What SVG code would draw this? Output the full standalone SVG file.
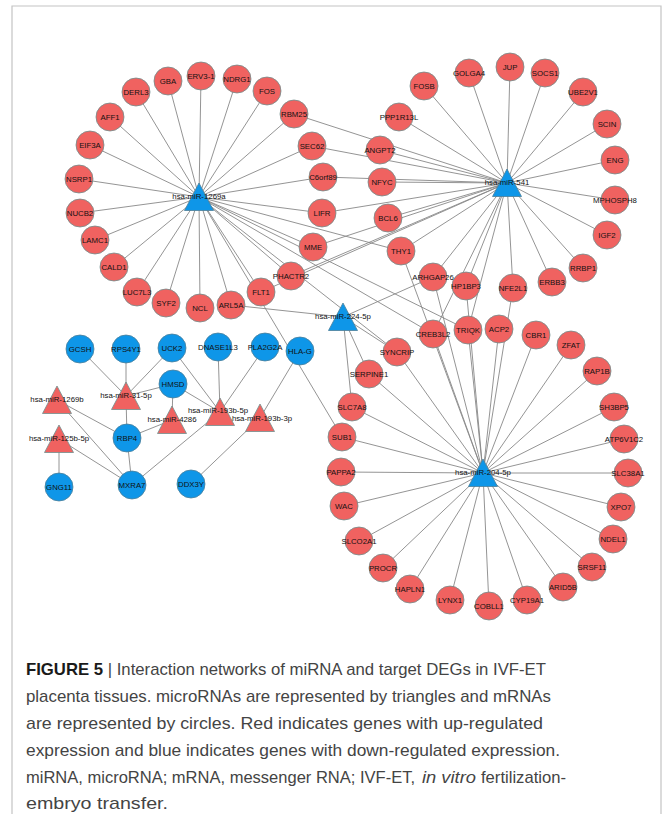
<svg xmlns="http://www.w3.org/2000/svg" xmlns:xlink="http://www.w3.org/1999/xlink" width="662" height="814" viewBox="0 0 662 814">
<style>
.e{stroke:#888888;stroke-width:0.9;fill:none}
.r{fill:#f06260;stroke:#6e8f8e;stroke-width:0.8}
.b{fill:#0e96e8;stroke:#4d7f98;stroke-width:0.8}
.l{font-family:"Liberation Sans",Arial,sans-serif;font-size:7.8px;fill:#111;text-anchor:middle;dominant-baseline:central}
.cap{font-family:"Liberation Sans",Arial,sans-serif;font-size:17px;fill:#444}
.frame{stroke:#c4c4c4;stroke-width:1.2;fill:none}
</style>
<defs>
<circle id="c" r="14"/>
<polygon id="t" points="0,-14 14.5,13.5 -14.5,13.5"/>
</defs>
<rect width="662" height="814" fill="#ffffff"/>
<path class="frame" d="M12,814 V6 H661 V814"/>
<g id="connectors" class="e">
<line x1="199" y1="197" x2="168" y2="81"/>
<line x1="199" y1="197" x2="201" y2="76"/>
<line x1="199" y1="197" x2="237" y2="79"/>
<line x1="199" y1="197" x2="267" y2="91"/>
<line x1="199" y1="197" x2="294" y2="114"/>
<line x1="199" y1="197" x2="136" y2="92"/>
<line x1="199" y1="197" x2="110" y2="117"/>
<line x1="199" y1="197" x2="90" y2="145"/>
<line x1="199" y1="197" x2="79" y2="179"/>
<line x1="199" y1="197" x2="80" y2="213"/>
<line x1="199" y1="197" x2="95" y2="240"/>
<line x1="199" y1="197" x2="114" y2="267"/>
<line x1="199" y1="197" x2="137" y2="292"/>
<line x1="199" y1="197" x2="166" y2="303"/>
<line x1="199" y1="197" x2="200" y2="308"/>
<line x1="199" y1="197" x2="231" y2="305"/>
<line x1="199" y1="197" x2="261" y2="292"/>
<line x1="199" y1="197" x2="291" y2="276"/>
<line x1="199" y1="197" x2="313" y2="247"/>
<line x1="199" y1="197" x2="322" y2="213"/>
<line x1="199" y1="197" x2="323" y2="177"/>
<line x1="199" y1="197" x2="312" y2="146"/>
<line x1="199" y1="197" x2="401" y2="251"/>
<line x1="199" y1="197" x2="468" y2="330"/>
<line x1="199" y1="197" x2="433" y2="334"/>
<line x1="199" y1="197" x2="342" y2="437"/>
<line x1="199" y1="197" x2="397" y2="352"/>
<line x1="507" y1="183" x2="424" y2="86"/>
<line x1="507" y1="183" x2="469" y2="73"/>
<line x1="507" y1="183" x2="510" y2="67"/>
<line x1="507" y1="183" x2="545" y2="73"/>
<line x1="507" y1="183" x2="583" y2="92"/>
<line x1="507" y1="183" x2="607" y2="124"/>
<line x1="507" y1="183" x2="615" y2="160"/>
<line x1="507" y1="183" x2="615" y2="200"/>
<line x1="507" y1="183" x2="607" y2="235"/>
<line x1="507" y1="183" x2="583" y2="268"/>
<line x1="507" y1="183" x2="552" y2="282"/>
<line x1="507" y1="183" x2="513" y2="288"/>
<line x1="507" y1="183" x2="466" y2="286"/>
<line x1="507" y1="183" x2="433" y2="277"/>
<line x1="507" y1="183" x2="401" y2="251"/>
<line x1="507" y1="183" x2="388" y2="218"/>
<line x1="507" y1="183" x2="382" y2="182"/>
<line x1="507" y1="183" x2="380" y2="150"/>
<line x1="507" y1="183" x2="399" y2="117"/>
<line x1="507" y1="183" x2="294" y2="114"/>
<line x1="507" y1="183" x2="312" y2="146"/>
<line x1="507" y1="183" x2="323" y2="177"/>
<line x1="507" y1="183" x2="322" y2="213"/>
<line x1="507" y1="183" x2="313" y2="247"/>
<line x1="507" y1="183" x2="291" y2="276"/>
<line x1="507" y1="183" x2="261" y2="292"/>
<line x1="507" y1="183" x2="468" y2="330"/>
<line x1="507" y1="183" x2="433" y2="334"/>
<line x1="343" y1="317" x2="231" y2="305"/>
<line x1="343" y1="317" x2="433" y2="277"/>
<line x1="343" y1="317" x2="397" y2="352"/>
<line x1="343" y1="317" x2="369" y2="374"/>
<line x1="343" y1="317" x2="352" y2="407"/>
<line x1="483" y1="473" x2="352" y2="407"/>
<line x1="483" y1="473" x2="342" y2="437"/>
<line x1="483" y1="473" x2="341" y2="472"/>
<line x1="483" y1="473" x2="344" y2="506"/>
<line x1="483" y1="473" x2="359" y2="541"/>
<line x1="483" y1="473" x2="383" y2="568"/>
<line x1="483" y1="473" x2="410" y2="589"/>
<line x1="483" y1="473" x2="450" y2="600"/>
<line x1="483" y1="473" x2="489" y2="606"/>
<line x1="483" y1="473" x2="527" y2="600"/>
<line x1="483" y1="473" x2="563" y2="587"/>
<line x1="483" y1="473" x2="592" y2="567"/>
<line x1="483" y1="473" x2="613" y2="539"/>
<line x1="483" y1="473" x2="621" y2="507"/>
<line x1="483" y1="473" x2="628" y2="473"/>
<line x1="483" y1="473" x2="624" y2="439"/>
<line x1="483" y1="473" x2="614" y2="407"/>
<line x1="483" y1="473" x2="597" y2="371"/>
<line x1="483" y1="473" x2="571" y2="345"/>
<line x1="483" y1="473" x2="536" y2="335"/>
<line x1="483" y1="473" x2="499" y2="329"/>
<line x1="483" y1="473" x2="513" y2="288"/>
<line x1="483" y1="473" x2="468" y2="330"/>
<line x1="483" y1="473" x2="466" y2="286"/>
<line x1="483" y1="473" x2="433" y2="334"/>
<line x1="483" y1="473" x2="401" y2="251"/>
<line x1="483" y1="473" x2="433" y2="277"/>
<line x1="483" y1="473" x2="397" y2="352"/>
<line x1="483" y1="473" x2="369" y2="374"/>
<line x1="126" y1="396" x2="80" y2="349"/>
<line x1="126" y1="396" x2="126" y2="349"/>
<line x1="126" y1="396" x2="172" y2="348"/>
<line x1="126" y1="396" x2="173" y2="384"/>
<line x1="126" y1="396" x2="127" y2="438"/>
<line x1="127" y1="438" x2="132" y2="485"/>
<line x1="220" y1="412" x2="172" y2="348"/>
<line x1="220" y1="412" x2="173" y2="384"/>
<line x1="220" y1="412" x2="218" y2="347"/>
<line x1="220" y1="412" x2="265" y2="347"/>
<line x1="220" y1="412" x2="132" y2="485"/>
<line x1="172" y1="420" x2="173" y2="384"/>
<line x1="172" y1="420" x2="127" y2="438"/>
<line x1="57" y1="400" x2="127" y2="438"/>
<line x1="57" y1="400" x2="132" y2="485"/>
<line x1="59" y1="439" x2="59" y2="487"/>
<line x1="59" y1="439" x2="132" y2="485"/>
<line x1="260" y1="418" x2="300" y2="351"/>
<line x1="260" y1="418" x2="191" y2="484"/>
</g>
<g id="n-GBA"><use href="#c" x="168" y="81" class="r"/><text class="l" x="168" y="81">GBA</text></g>
<g id="n-ERV3-1"><use href="#c" x="201" y="76" class="r"/><text class="l" x="201" y="76">ERV3-1</text></g>
<g id="n-NDRG1"><use href="#c" x="237" y="79" class="r"/><text class="l" x="237" y="79">NDRG1</text></g>
<g id="n-FOS"><use href="#c" x="267" y="91" class="r"/><text class="l" x="267" y="91">FOS</text></g>
<g id="n-RBM25"><use href="#c" x="294" y="114" class="r"/><text class="l" x="294" y="114">RBM25</text></g>
<g id="n-DERL3"><use href="#c" x="136" y="92" class="r"/><text class="l" x="136" y="92">DERL3</text></g>
<g id="n-AFF1"><use href="#c" x="110" y="117" class="r"/><text class="l" x="110" y="117">AFF1</text></g>
<g id="n-EIF3A"><use href="#c" x="90" y="145" class="r"/><text class="l" x="90" y="145">EIF3A</text></g>
<g id="n-NSRP1"><use href="#c" x="79" y="179" class="r"/><text class="l" x="79" y="179">NSRP1</text></g>
<g id="n-NUCB2"><use href="#c" x="80" y="213" class="r"/><text class="l" x="80" y="213">NUCB2</text></g>
<g id="n-LAMC1"><use href="#c" x="95" y="240" class="r"/><text class="l" x="95" y="240">LAMC1</text></g>
<g id="n-CALD1"><use href="#c" x="114" y="267" class="r"/><text class="l" x="114" y="267">CALD1</text></g>
<g id="n-LUC7L3"><use href="#c" x="137" y="292" class="r"/><text class="l" x="137" y="292">LUC7L3</text></g>
<g id="n-SYF2"><use href="#c" x="166" y="303" class="r"/><text class="l" x="166" y="303">SYF2</text></g>
<g id="n-NCL"><use href="#c" x="200" y="308" class="r"/><text class="l" x="200" y="308">NCL</text></g>
<g id="n-ARL5A"><use href="#c" x="231" y="305" class="r"/><text class="l" x="231" y="305">ARL5A</text></g>
<g id="n-FLT1"><use href="#c" x="261" y="292" class="r"/><text class="l" x="261" y="292">FLT1</text></g>
<g id="n-PHACTR2"><use href="#c" x="291" y="276" class="r"/><text class="l" x="291" y="276">PHACTR2</text></g>
<g id="n-MME"><use href="#c" x="313" y="247" class="r"/><text class="l" x="313" y="247">MME</text></g>
<g id="n-LIFR"><use href="#c" x="322" y="213" class="r"/><text class="l" x="322" y="213">LIFR</text></g>
<g id="n-C6orf89"><use href="#c" x="323" y="177" class="r"/><text class="l" x="323" y="177">C6orf89</text></g>
<g id="n-SEC62"><use href="#c" x="312" y="146" class="r"/><text class="l" x="312" y="146">SEC62</text></g>
<g id="n-FOSB"><use href="#c" x="424" y="86" class="r"/><text class="l" x="424" y="86">FOSB</text></g>
<g id="n-GOLGA4"><use href="#c" x="469" y="73" class="r"/><text class="l" x="469" y="73">GOLGA4</text></g>
<g id="n-JUP"><use href="#c" x="510" y="67" class="r"/><text class="l" x="510" y="67">JUP</text></g>
<g id="n-SOCS1"><use href="#c" x="545" y="73" class="r"/><text class="l" x="545" y="73">SOCS1</text></g>
<g id="n-UBE2V1"><use href="#c" x="583" y="92" class="r"/><text class="l" x="583" y="92">UBE2V1</text></g>
<g id="n-SCIN"><use href="#c" x="607" y="124" class="r"/><text class="l" x="607" y="124">SCIN</text></g>
<g id="n-ENG"><use href="#c" x="615" y="160" class="r"/><text class="l" x="615" y="160">ENG</text></g>
<g id="n-MPHOSPH8"><use href="#c" x="615" y="200" class="r"/><text class="l" x="615" y="200">MPHOSPH8</text></g>
<g id="n-IGF2"><use href="#c" x="607" y="235" class="r"/><text class="l" x="607" y="235">IGF2</text></g>
<g id="n-RRBP1"><use href="#c" x="583" y="268" class="r"/><text class="l" x="583" y="268">RRBP1</text></g>
<g id="n-ERBB3"><use href="#c" x="552" y="282" class="r"/><text class="l" x="552" y="282">ERBB3</text></g>
<g id="n-NFE2L1"><use href="#c" x="513" y="288" class="r"/><text class="l" x="513" y="288">NFE2L1</text></g>
<g id="n-HP1BP3"><use href="#c" x="466" y="286" class="r"/><text class="l" x="466" y="286">HP1BP3</text></g>
<g id="n-ARHGAP26"><use href="#c" x="433" y="277" class="r"/><text class="l" x="433" y="277">ARHGAP26</text></g>
<g id="n-THY1"><use href="#c" x="401" y="251" class="r"/><text class="l" x="401" y="251">THY1</text></g>
<g id="n-BCL6"><use href="#c" x="388" y="218" class="r"/><text class="l" x="388" y="218">BCL6</text></g>
<g id="n-NFYC"><use href="#c" x="382" y="182" class="r"/><text class="l" x="382" y="182">NFYC</text></g>
<g id="n-ANGPT2"><use href="#c" x="380" y="150" class="r"/><text class="l" x="380" y="150">ANGPT2</text></g>
<g id="n-PPP1R13L"><use href="#c" x="399" y="117" class="r"/><text class="l" x="399" y="117">PPP1R13L</text></g>
<g id="n-CREB3L2"><use href="#c" x="433" y="334" class="r"/><text class="l" x="433" y="334">CREB3L2</text></g>
<g id="n-TRIQK"><use href="#c" x="468" y="330" class="r"/><text class="l" x="468" y="330">TRIQK</text></g>
<g id="n-ACP2"><use href="#c" x="499" y="329" class="r"/><text class="l" x="499" y="329">ACP2</text></g>
<g id="n-CBR1"><use href="#c" x="536" y="335" class="r"/><text class="l" x="536" y="335">CBR1</text></g>
<g id="n-ZFAT"><use href="#c" x="571" y="345" class="r"/><text class="l" x="571" y="345">ZFAT</text></g>
<g id="n-RAP1B"><use href="#c" x="597" y="371" class="r"/><text class="l" x="597" y="371">RAP1B</text></g>
<g id="n-SYNCRIP"><use href="#c" x="397" y="352" class="r"/><text class="l" x="397" y="352">SYNCRIP</text></g>
<g id="n-SERPINE1"><use href="#c" x="369" y="374" class="r"/><text class="l" x="369" y="374">SERPINE1</text></g>
<g id="n-SLC7A8"><use href="#c" x="352" y="407" class="r"/><text class="l" x="352" y="407">SLC7A8</text></g>
<g id="n-SUB1"><use href="#c" x="342" y="437" class="r"/><text class="l" x="342" y="437">SUB1</text></g>
<g id="n-PAPPA2"><use href="#c" x="341" y="472" class="r"/><text class="l" x="341" y="472">PAPPA2</text></g>
<g id="n-WAC"><use href="#c" x="344" y="506" class="r"/><text class="l" x="344" y="506">WAC</text></g>
<g id="n-SLCO2A1"><use href="#c" x="359" y="541" class="r"/><text class="l" x="359" y="541">SLCO2A1</text></g>
<g id="n-PROCR"><use href="#c" x="383" y="568" class="r"/><text class="l" x="383" y="568">PROCR</text></g>
<g id="n-HAPLN1"><use href="#c" x="410" y="589" class="r"/><text class="l" x="410" y="589">HAPLN1</text></g>
<g id="n-LYNX1"><use href="#c" x="450" y="600" class="r"/><text class="l" x="450" y="600">LYNX1</text></g>
<g id="n-COBLL1"><use href="#c" x="489" y="606" class="r"/><text class="l" x="489" y="606">COBLL1</text></g>
<g id="n-CYP19A1"><use href="#c" x="527" y="600" class="r"/><text class="l" x="527" y="600">CYP19A1</text></g>
<g id="n-ARID5B"><use href="#c" x="563" y="587" class="r"/><text class="l" x="563" y="587">ARID5B</text></g>
<g id="n-SRSF11"><use href="#c" x="592" y="567" class="r"/><text class="l" x="592" y="567">SRSF11</text></g>
<g id="n-NDEL1"><use href="#c" x="613" y="539" class="r"/><text class="l" x="613" y="539">NDEL1</text></g>
<g id="n-XPO7"><use href="#c" x="621" y="507" class="r"/><text class="l" x="621" y="507">XPO7</text></g>
<g id="n-SLC38A1"><use href="#c" x="628" y="473" class="r"/><text class="l" x="628" y="473">SLC38A1</text></g>
<g id="n-ATP6V1C2"><use href="#c" x="624" y="439" class="r"/><text class="l" x="624" y="439">ATP6V1C2</text></g>
<g id="n-SH3BP5"><use href="#c" x="614" y="407" class="r"/><text class="l" x="614" y="407">SH3BP5</text></g>
<g id="n-GCSH"><use href="#c" x="80" y="349" class="b"/><text class="l" x="80" y="349">GCSH</text></g>
<g id="n-RPS4Y1"><use href="#c" x="126" y="349" class="b"/><text class="l" x="126" y="349">RPS4Y1</text></g>
<g id="n-UCK2"><use href="#c" x="172" y="348" class="b"/><text class="l" x="172" y="348">UCK2</text></g>
<g id="n-DNASE1L3"><use href="#c" x="218" y="347" class="b"/><text class="l" x="218" y="347">DNASE1L3</text></g>
<g id="n-PLA2G2A"><use href="#c" x="265" y="347" class="b"/><text class="l" x="265" y="347">PLA2G2A</text></g>
<g id="n-HLA-G"><use href="#c" x="300" y="351" class="b"/><text class="l" x="300" y="351">HLA-G</text></g>
<g id="n-HMSD"><use href="#c" x="173" y="384" class="b"/><text class="l" x="173" y="384">HMSD</text></g>
<g id="n-RBP4"><use href="#c" x="127" y="438" class="b"/><text class="l" x="127" y="438">RBP4</text></g>
<g id="n-GNG11"><use href="#c" x="59" y="487" class="b"/><text class="l" x="59" y="487">GNG11</text></g>
<g id="n-MXRA7"><use href="#c" x="132" y="485" class="b"/><text class="l" x="132" y="485">MXRA7</text></g>
<g id="n-DDX3Y"><use href="#c" x="191" y="484" class="b"/><text class="l" x="191" y="484">DDX3Y</text></g>
<g id="n-hsa-miR-1269a"><use href="#t" x="199" y="197" class="b"/><text class="l" x="199" y="196">hsa-miR-1269a</text></g>
<g id="n-hsa-miR-541"><use href="#t" x="507" y="183" class="b"/><text class="l" x="507" y="182">hsa-miR-541</text></g>
<g id="n-hsa-miR-224-5p"><use href="#t" x="343" y="317" class="b"/><text class="l" x="343" y="316">hsa-miR-224-5p</text></g>
<g id="n-hsa-miR-204-5p"><use href="#t" x="483" y="473" class="b"/><text class="l" x="483" y="472">hsa-miR-204-5p</text></g>
<g id="n-hsa-miR-1269b"><use href="#t" x="57" y="400" class="r"/><text class="l" x="57" y="399">hsa-miR-1269b</text></g>
<g id="n-hsa-miR-31-5p"><use href="#t" x="126" y="396" class="r"/><text class="l" x="126" y="395">hsa-miR-31-5p</text></g>
<g id="n-hsa-miR-4286"><use href="#t" x="172" y="420" class="r"/><text class="l" x="172" y="419">hsa-miR-4286</text></g>
<g id="n-hsa-miR-193b-5p"><use href="#t" x="220" y="412" class="r"/><text class="l" x="218" y="410">hsa-miR-193b-5p</text></g>
<g id="n-hsa-miR-193b-3p"><use href="#t" x="260" y="418" class="r"/><text class="l" x="262" y="418">hsa-miR-193b-3p</text></g>
<g id="n-hsa-miR-125b-5p"><use href="#t" x="59" y="439" class="r"/><text class="l" x="59" y="438">hsa-miR-125b-5p</text></g>
<g id="caption" class="cap">
<text x="26" y="675" textLength="520" lengthAdjust="spacingAndGlyphs"><tspan font-weight="bold" fill="#1a1a1a">FIGURE 5</tspan> | Interaction networks of miRNA and target DEGs in IVF-ET</text>
<text x="26" y="702" textLength="525" lengthAdjust="spacingAndGlyphs">placenta tissues. microRNAs are represented by triangles and mRNAs</text>
<text x="26" y="729" textLength="517" lengthAdjust="spacingAndGlyphs">are represented by circles. Red indicates genes with up-regulated</text>
<text x="26" y="756" textLength="534" lengthAdjust="spacingAndGlyphs">expression and blue indicates genes with down-regulated expression.</text>
<text x="26" y="783" textLength="389" lengthAdjust="spacingAndGlyphs">miRNA, microRNA; mRNA, messenger RNA; IVF-ET,</text>
<text x="422" y="783" textLength="54" lengthAdjust="spacingAndGlyphs" font-style="italic">in vitro</text>
<text x="481" y="783" textLength="85" lengthAdjust="spacingAndGlyphs">fertilization-</text>
<text x="26" y="809" textLength="142" lengthAdjust="spacingAndGlyphs">embryo transfer.</text>
</g>
</svg>
